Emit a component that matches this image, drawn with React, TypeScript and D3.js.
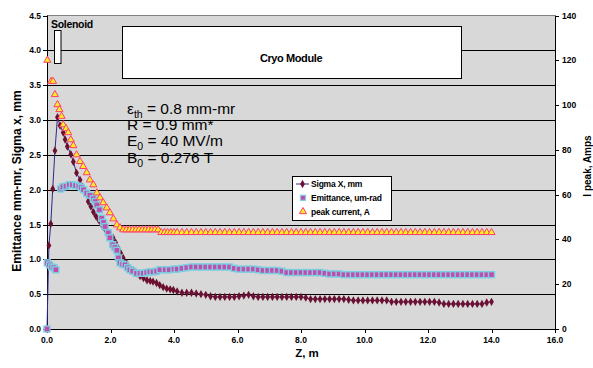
import * as d3 from 'd3';

const W = 593;
const H = 368;
const [mt, mr, mb, ml] = [15.5, 38, 39, 47];

const font = '"Liberation Sans", Arial, Helvetica, sans-serif';

// axis ticks
const zTicks = [0, 2, 4, 6, 8, 10, 12, 14, 16];
const leftTicks = [0, 0.5, 1, 1.5, 2, 2.5, 3, 3.5, 4, 4.5];
const rightTicks = [0, 20, 40, 60, 80, 100, 120, 140];

// shared sampling of the flat tail (z >= 4.1 m)
const tailZ = [
  4.1, 4.25, 4.4, 4.55, 4.7, 4.85, 5.0, 5.15, 5.3, 5.45, 5.6, 5.75, 5.9, 6.05, 6.2, 6.35, 6.5,
  6.65, 6.8, 6.95, 7.1, 7.25, 7.4, 7.55, 7.7, 7.85, 8.0, 8.15, 8.3, 8.45, 8.6, 8.75, 8.9, 9.05,
  9.2, 9.35, 9.5, 9.65, 9.8, 9.95, 10.1, 10.25, 10.4, 10.55, 10.7, 10.85, 11.0, 11.15, 11.3,
  11.45, 11.6, 11.75, 11.9, 12.05, 12.2, 12.35, 12.5, 12.65, 12.8, 12.95, 13.1, 13.25, 13.4,
  13.55, 13.7, 13.85, 14.0,
];

// Sigma X, mm
const sigmaHeadZ = [
  0, 0.06, 0.12, 0.18, 0.25, 0.33, 0.41, 0.51, 0.57, 0.64, 0.75, 0.83, 0.93, 1.04, 1.12, 1.2,
  1.3, 1.38, 1.46, 1.54, 1.62, 1.7, 1.77, 1.85, 1.93, 2.0, 2.08, 2.16, 2.24, 2.32, 2.4, 2.5,
  2.61, 2.72, 2.83, 2.93, 3.04, 3.15, 3.25, 3.34, 3.45, 3.55, 3.66, 3.77, 3.88, 3.98,
];
const sigmaHead = [
  0, 1.2, 1.51, 2.01, 2.56, 3.04, 2.92, 2.82, 2.72, 2.62, 2.51, 2.4, 2.24, 2.14, 2.04, 1.95,
  1.83, 1.76, 1.68, 1.62, 1.57, 1.52, 1.47, 1.42, 1.38, 1.35, 1.31, 1.24, 1.16, 1.09, 1.02, 0.95,
  0.88, 0.84, 0.8, 0.76, 0.73, 0.7, 0.69, 0.68, 0.66, 0.63, 0.6, 0.58, 0.57, 0.56,
];
const sigmaTail = [
  0.54, 0.52, 0.52, 0.52, 0.51, 0.5, 0.49, 0.47, 0.46, 0.46, 0.46, 0.46, 0.46, 0.47, 0.48, 0.49,
  0.47, 0.46, 0.46, 0.46, 0.46, 0.46, 0.46, 0.46, 0.46, 0.46, 0.46, 0.45, 0.43, 0.43, 0.43, 0.43,
  0.43, 0.43, 0.43, 0.43, 0.42, 0.41, 0.41, 0.41, 0.41, 0.41, 0.41, 0.41, 0.41, 0.39, 0.39, 0.39,
  0.39, 0.39, 0.39, 0.39, 0.39, 0.39, 0.39, 0.38, 0.36, 0.36, 0.36, 0.36, 0.36, 0.36, 0.36, 0.36,
  0.36, 0.38, 0.39,
];

// Emittance, um-rad
const emitHeadZ = [
  0, 0.01, 0.08, 0.15, 0.22, 0.28, 0.43, 0.5, 0.6, 0.7, 0.8, 0.9, 1.0, 1.08, 1.15, 1.25, 1.35,
  1.46, 1.52, 1.57, 1.65, 1.72, 1.78, 1.83, 1.93, 1.98, 2.07, 2.14, 2.2, 2.25, 2.3, 2.38, 2.46,
  2.54, 2.61, 2.7, 2.82, 2.93, 3.03, 3.14, 3.24, 3.34, 3.45, 3.56, 3.72, 3.85, 4.0,
];
const emitHead = [
  0, 0.95, 0.92, 0.89, 0.88, 0.85, 2.01, 2.04, 2.05, 2.07, 2.07, 2.06, 2.05, 2.03, 2.0, 1.95, 1.92,
  1.87, 1.83, 1.78, 1.71, 1.59, 1.53, 1.47, 1.38, 1.31, 1.21, 1.17, 1.13, 1.02, 0.95, 0.93, 0.92,
  0.88, 0.85, 0.83, 0.8, 0.8, 0.8, 0.81, 0.82, 0.82, 0.83, 0.85, 0.85, 0.85, 0.86,
];
const emitTail = [
  0.86, 0.87, 0.88, 0.89, 0.89, 0.89, 0.89, 0.89, 0.89, 0.89, 0.89, 0.89, 0.87, 0.86, 0.86, 0.86,
  0.86, 0.85, 0.84, 0.84, 0.84, 0.84, 0.83, 0.81, 0.81, 0.81, 0.81, 0.81, 0.81, 0.81, 0.81, 0.8,
  0.79, 0.79, 0.79, 0.78, 0.78, 0.78, 0.78, 0.78, 0.78, 0.78, 0.78, 0.78, 0.78, 0.78, 0.78, 0.78,
  0.78, 0.78, 0.78, 0.78, 0.78, 0.78, 0.78, 0.78, 0.78, 0.78, 0.78, 0.78, 0.78, 0.78, 0.78, 0.78,
  0.78, 0.78, 0.78,
];

// peak current, A (right axis)
const currentHeadZ = [
  0.01, 0.13, 0.19, 0.25, 0.33, 0.39, 0.46, 0.51, 0.6, 0.67, 0.75, 0.83, 0.93, 1.04, 1.14, 1.25,
  1.35, 1.46, 1.57, 1.67, 1.77, 1.88, 1.98, 2.09, 2.2, 2.3, 2.4, 2.5, 2.6, 2.7, 2.8, 2.9, 3.0, 3.1,
  3.2, 3.3, 3.4, 3.5, 3.6, 3.7, 3.8, 3.9, 4.0,
];
const currentHead = [
  120, 110.6, 110.6, 104.7, 100.2, 98, 95, 91.2, 89.5, 87.7, 84.5, 81.9, 77.8, 74.8, 72.6, 69.8,
  66.6, 64.4, 60.8, 58.6, 56.4, 54.1, 51.9, 49.2, 46.5, 45.2, 44.3, 44.3, 44.3, 44.3, 44.3, 44.3,
  44.3, 44.3, 44.3, 44.3, 44.3, 44.3, 43.1, 43.1, 43.1, 43.1, 43.1,
];
const currentTail = [
  43.1, 43.1, 43.1, 43.1, 43.1, 43.1, 43.1, 43.1, 43.1, 43.1, 43.1, 43.1, 43.1, 43.1, 43.1, 43.1,
  43.1, 43.1, 43.1, 43.1, 43.1, 43.1, 43.1, 43.1, 43.1, 43.1, 43.1, 43.1, 43.1, 43.1, 43.1, 43.1,
  43.1, 43.1, 43.1, 43.1, 43.1, 43.1, 43.1, 43.1, 43.1, 43.1, 43.1, 43.1, 43.1, 43.1, 43.1, 43.1,
  43.1, 43.1, 43.1, 43.1, 43.1, 43.1, 43.1, 43.1, 43.1, 43.1, 43.1, 43.1, 43.1, 43.1, 43.1, 43.1,
  43.1, 43.1, 43.1,
];

const zip = (zs: number[], vs: number[]) => zs.map((z, i) => [z, vs[i]] as [number, number]);

const sigma = [...zip(sigmaHeadZ, sigmaHead), ...zip(tailZ, sigmaTail)];
const emit = [...zip(emitHeadZ, emitHead), ...zip(tailZ, emitTail)];
const current = [...zip(currentHeadZ, currentHead), ...zip(tailZ, currentTail)];

const legendItems = ['Sigma X, mm', 'Emittance, um-rad', 'peak current, A'];

const SIGMA_LINE = '#2a2a8c';
const SIGMA_MARK = '#6b1030';
const EMIT_FILL = '#c04cae';
const EMIT_EDGE = '#7ccfe0';
const CUR_FILL = '#ffee22';
const CUR_EDGE = '#ff3d6e';

export default function App() {
  const x = d3.scaleLinear().domain([0, 16]).range([ml, W - mr]);
  const yL = d3.scaleLinear().domain([0, 4.5]).range([H - mb, mt]);
  const yR = d3.scaleLinear().domain([0, 140]).range([H - mb, mt]);

  const line = d3
    .line<[number, number]>()
    .x((d) => x(d[0]))
    .y((d) => yL(d[1]));

  const diamond = d3.symbol(d3.symbolDiamond, 20)() as string;
  const triangle = d3.symbol(d3.symbolTriangle, 22)() as string;

  const x0 = ml;
  const x1 = W - mr;
  const y0 = H - mb;
  const fmt1 = d3.format('.1f');

  const sq = 6;
  const tickStyle = { fontFamily: font, fontSize: 8.5, fontWeight: 700 } as const;

  return (
    <svg width={W} height={H} style={{ position: 'absolute', left: 0, top: 0, background: '#fff' }}>
      {/* plot area */}
      <rect x={x0} y={mt} width={x1 - x0} height={y0 - mt} fill="#d8d8d8" />
      <line x1={x0} x2={x1} y1={mt} y2={mt} stroke="#808080" />

      {/* gridlines */}
      {leftTicks
        .filter((t) => t > 0 && t < 4.5)
        .map((t) => (
          <line key={t} x1={x0} x2={x1} y1={Math.round(yL(t)) + 0.5} y2={Math.round(yL(t)) + 0.5} stroke="#000" />
        ))}

      {/* cryo module and solenoid boxes */}
      <rect x={122.5} y={26.5} width={339} height={52} fill="#fff" stroke="#000" />
      <text x={291} y={62} textAnchor="middle" style={{ fontFamily: font, fontSize: 11, fontWeight: 700, letterSpacing: -0.4 }}>
        Cryo Module
      </text>
      <rect x={54.5} y={30.5} width={6.5} height={33} fill="#fff" stroke="#000" />
      <text x={51} y={28} style={{ fontFamily: font, fontSize: 10.5, fontWeight: 700, letterSpacing: -0.3 }}>
        Solenoid
      </text>

      {/* axes lines */}
      <line x1={x0 + 0.5} x2={x0 + 0.5} y1={mt} y2={y0} stroke="#000" />
      <line x1={x1 + 0.5} x2={x1 + 0.5} y1={mt} y2={y0} stroke="#000" />
      <line x1={x0} x2={x1 + 1} y1={y0 + 0.5} y2={y0 + 0.5} stroke="#000" />

      {/* left ticks */}
      {leftTicks.map((t) => (
        <g key={t}>
          <line x1={x0 - 4} x2={x0} y1={Math.round(yL(t)) + 0.5} y2={Math.round(yL(t)) + 0.5} stroke="#000" />
          <text x={41} y={yL(t) + 3} textAnchor="end" style={tickStyle}>
            {fmt1(t)}
          </text>
        </g>
      ))}
      {/* right ticks */}
      {rightTicks.map((t) => (
        <g key={t}>
          <line x1={x1 + 1} x2={x1 + 4} y1={Math.round(yR(t)) + 0.5} y2={Math.round(yR(t)) + 0.5} stroke="#000" />
          <text x={562} y={yR(t) + 3} style={tickStyle}>
            {t}
          </text>
        </g>
      ))}
      {/* bottom ticks */}
      {zTicks.map((t) => (
        <g key={t}>
          <line x1={Math.round(x(t)) + 0.5} x2={Math.round(x(t)) + 0.5} y1={y0} y2={y0 + 4} stroke="#000" />
          <text x={x(t)} y={343} textAnchor="middle" style={tickStyle}>
            {fmt1(t)}
          </text>
        </g>
      ))}

      {/* axis titles */}
      <text x={307} y={357} textAnchor="middle" style={{ fontFamily: font, fontSize: 11.5, fontWeight: 700 }}>
        Z, m
      </text>
      <text
        transform={`translate(21,181) rotate(-90)`}
        textAnchor="middle"
        style={{ fontFamily: font, fontSize: 12, fontWeight: 700 }}
      >
        Emittance mm-mr, Sigma x, mm
      </text>
      <text
        transform={`translate(591,166) rotate(-90)`}
        textAnchor="middle"
        style={{ fontFamily: font, fontSize: 10, fontWeight: 700 }}
      >
        I peak, Amps
      </text>

      {/* parameters */}
      <g style={{ fontFamily: font, fontSize: 15.5 }}>
        <text x={127} y={114}>
          ε<tspan dy={4} fontSize={10.5}>th</tspan>
          <tspan dy={-4}> = 0.8 mm-mr</tspan>
        </text>
        <text x={127} y={130}>R = 0.9 mm*</text>
        <text x={127} y={146}>
          E<tspan dy={4} fontSize={10.5}>0</tspan>
          <tspan dy={-4}> = 40 MV/m</tspan>
        </text>
        <text x={127} y={163}>
          B<tspan dy={4} fontSize={10.5}>0</tspan>
          <tspan dy={-4}> = 0.276 T</tspan>
        </text>
      </g>

      {/* Sigma X */}
      <path d={line(sigma) ?? ''} fill="none" stroke={SIGMA_LINE} strokeWidth={1} />
      {sigma.map((d, i) => (
        <path key={i} d={diamond} transform={`translate(${x(d[0])},${yL(d[1])})`} fill={SIGMA_MARK} />
      ))}

      {/* Emittance */}
      {emit.map((d, i) => (
        <rect
          key={i}
          x={x(d[0]) - sq / 2}
          y={yL(d[1]) - sq / 2}
          width={sq}
          height={sq}
          fill={EMIT_FILL}
          stroke={EMIT_EDGE}
          strokeWidth={1.4}
        />
      ))}

      {/* peak current */}
      {current.map((d, i) => (
        <path
          key={i}
          d={triangle}
          transform={`translate(${x(d[0])},${yR(d[1])})`}
          fill={CUR_FILL}
          stroke={CUR_EDGE}
          strokeWidth={1}
        />
      ))}

      {/* legend */}
      <rect x={292.5} y={176.5} width={99} height={44} fill="#fff" stroke="#000" />
      {legendItems.map((name, i) => {
        const ly = 184 + i * 13.8;
        return (
          <g key={name}>
            {i === 0 && (
              <>
                <line x1={296} x2={309} y1={ly} y2={ly} stroke={SIGMA_LINE} />
                <path d={diamond} transform={`translate(302.5,${ly})`} fill={SIGMA_MARK} />
              </>
            )}
            {i === 1 && (
              <rect x={300.5} y={ly - 2.5} width={5} height={5} fill={EMIT_FILL} stroke={EMIT_EDGE} strokeWidth={1.2} />
            )}
            {i === 2 && (
              <path d={triangle} transform={`translate(303,${ly})`} fill={CUR_FILL} stroke={CUR_EDGE} />
            )}
            <text x={311} y={ly + 3} style={{ fontFamily: font, fontSize: 8.5, fontWeight: 700, letterSpacing: -0.2 }}>
              {name}
            </text>
          </g>
        );
      })}
    </svg>
  );
}
